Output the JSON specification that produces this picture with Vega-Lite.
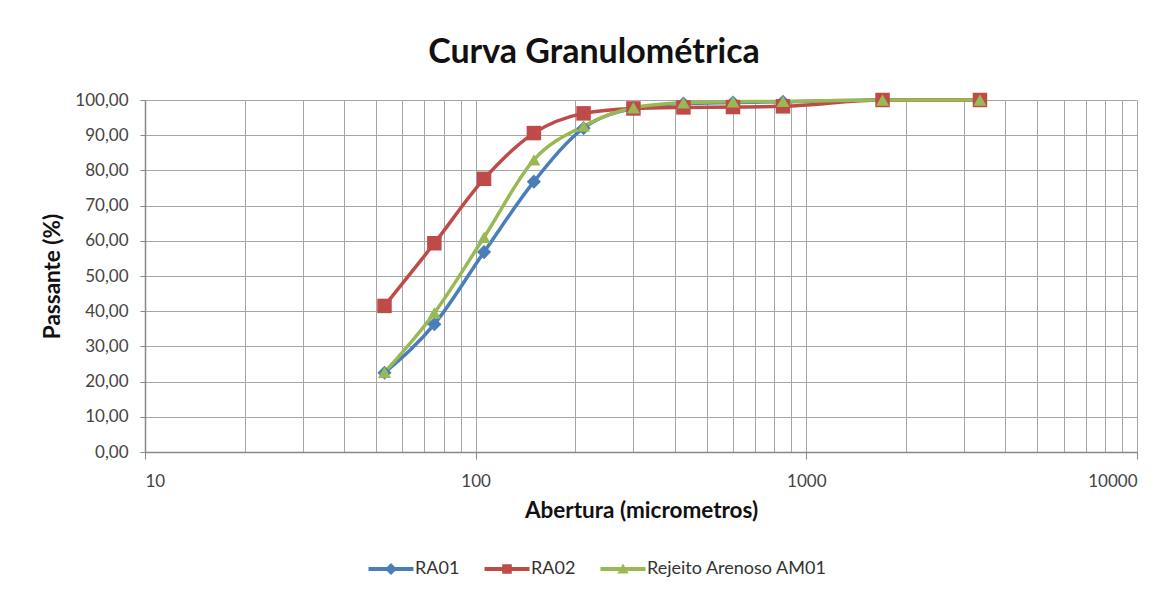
{
  "$schema": "https://vega.github.io/schema/vega-lite/v6.json",
  "width": 992,
  "height": 352,
  "autosize": {"type": "none"},
  "padding": {"left": 145, "top": 100, "right": 35, "bottom": 145},
  "background": "white",
  "title": {"text": "Curva Granulométrica", "font": "Lato", "fontSize": 34, "fontWeight": "bold", "color": "#111", "dx": -47, "offset": 21},
  "config": {"view": {"stroke": null}, "font": "Lato"},
  "data": {"values": [
    {"s": "RA01", "a": 53, "p": 22.5}, {"s": "RA01", "a": 75, "p": 36.3}, {"s": "RA01", "a": 106, "p": 56.8}, {"s": "RA01", "a": 150, "p": 76.8}, {"s": "RA01", "a": 212, "p": 92.0}, {"s": "RA01", "a": 300, "p": 97.6}, {"s": "RA01", "a": 425, "p": 99.0}, {"s": "RA01", "a": 600, "p": 99.3}, {"s": "RA01", "a": 850, "p": 99.5}, {"s": "RA01", "a": 1700, "p": 100}, {"s": "RA01", "a": 3350, "p": 100},
    {"s": "RA02", "a": 53, "p": 41.5}, {"s": "RA02", "a": 75, "p": 59.3}, {"s": "RA02", "a": 106, "p": 77.6}, {"s": "RA02", "a": 150, "p": 90.6}, {"s": "RA02", "a": 212, "p": 96.2}, {"s": "RA02", "a": 300, "p": 97.6}, {"s": "RA02", "a": 425, "p": 97.9}, {"s": "RA02", "a": 600, "p": 98.0}, {"s": "RA02", "a": 850, "p": 98.2}, {"s": "RA02", "a": 1700, "p": 100}, {"s": "RA02", "a": 3350, "p": 100},
    {"s": "Rejeito Arenoso AM01", "a": 53, "p": 22.6}, {"s": "Rejeito Arenoso AM01", "a": 75, "p": 39.5}, {"s": "Rejeito Arenoso AM01", "a": 106, "p": 61.0}, {"s": "Rejeito Arenoso AM01", "a": 150, "p": 83.0}, {"s": "Rejeito Arenoso AM01", "a": 212, "p": 92.6}, {"s": "Rejeito Arenoso AM01", "a": 300, "p": 97.8}, {"s": "Rejeito Arenoso AM01", "a": 425, "p": 99.2}, {"s": "Rejeito Arenoso AM01", "a": 600, "p": 99.5}, {"s": "Rejeito Arenoso AM01", "a": 850, "p": 99.6}, {"s": "Rejeito Arenoso AM01", "a": 1700, "p": 100}, {"s": "Rejeito Arenoso AM01", "a": 3350, "p": 100}
  ]},
  "encoding": {
    "x": {"field": "a", "type": "quantitative",
      "scale": {"type": "log", "domain": [10, 10000], "nice": false},
      "axis": {"title": "Abertura (micrometros)", "titleFont": "Lato", "titleFontSize": 22.5, "titleFontWeight": "bold", "titleColor": "#111", "titlePadding": 10,
        "values": [10,20,30,40,50,60,70,80,90,100,200,300,400,500,600,700,800,900,1000,2000,3000,4000,5000,6000,7000,8000,9000,10000],
        "labelExpr": "indexof([10,100,1000,10000], datum.value) >= 0 ? datum.value + '' : ''",
        "labelFontSize": 17, "labelColor": "#444", "labelPadding": 14, "tickSize": 7, "tickColor": "#888",
        "tickOpacity": {"condition": {"test": "indexof([10,100,1000,10000], datum.value) >= 0", "value": 1}, "value": 0},
        "grid": true, "gridColor": "#a6a6a6", "gridWidth": 1, "domainColor": "#888", "domainWidth": 1.5}
    },
    "y": {"field": "p", "type": "quantitative",
      "scale": {"domain": [0, 100], "nice": false},
      "axis": {"title": "Passante (%)", "titleFont": "Lato", "titleFontSize": 22.5, "titleFontWeight": "bold", "titleColor": "#111", "titlePadding": 10,
        "values": [0,10,20,30,40,50,60,70,80,90,100],
        "labelExpr": "replace(format(datum.value, '.2f'), '.', ',')",
        "labelFontSize": 17, "labelColor": "#444", "labelPadding": 12, "tickSize": 5, "tickColor": "#888",
        "grid": true, "gridColor": "#a6a6a6", "gridWidth": 1, "domainColor": "#888", "domainWidth": 1.5}
    },
    "color": {"field": "s", "type": "nominal",
      "scale": {"domain": ["RA01", "RA02", "Rejeito Arenoso AM01"], "range": ["#4A7EBB", "#BE4B48", "#98B954"]},
      "legend": {"title": null, "orient": "none", "legendX": 237, "legendY": 460, "direction": "horizontal",
        "labelFont": "Lato", "labelFontSize": 18, "labelColor": "#333", "labelLimit": 400, "symbolSize": 144, "columnPadding": 24, "labelOffset": 15,
        "symbolStrokeWidth": 0, "symbolType": "square",
        "encode": {"symbols": {"update": {
          "shape": {"signal": "datum.value === 'RA01' ? 'M-3.75,-0.33H3.75V0.33H-3.75Z M0,-1L1,0L0,1L-1,0Z' : datum.value === 'RA02' ? 'M-3.75,-0.33H3.75V0.33H-3.75Z M-0.8,-0.8H0.8V0.8H-0.8Z' : 'M-3.75,-0.33H3.75V0.33H-3.75Z M0,-0.9L0.95,0.75H-0.95Z'"},
          "fill": {"signal": "datum.value === 'RA01' ? '#4A7EBB' : datum.value === 'RA02' ? '#BE4B48' : '#98B954'"},
          "opacity": {"value": 1}
        }}}}
    }
  },
  "layer": [
    {"mark": {"type": "line", "interpolate": "monotone", "strokeWidth": 3.5}},
    {"mark": {"type": "point", "filled": true, "opacity": 1, "strokeWidth": 1},
      "encoding": {
        "shape": {"condition": [{"test": "datum.s === 'RA01'", "value": "diamond"}, {"test": "datum.s === 'RA02'", "value": "square"}], "value": "triangle-up"},
        "size": {"condition": [{"test": "datum.s === 'RA01'", "value": 200}, {"test": "datum.s === 'RA02'", "value": 210}], "value": 170}
      }
    }
  ]
}
